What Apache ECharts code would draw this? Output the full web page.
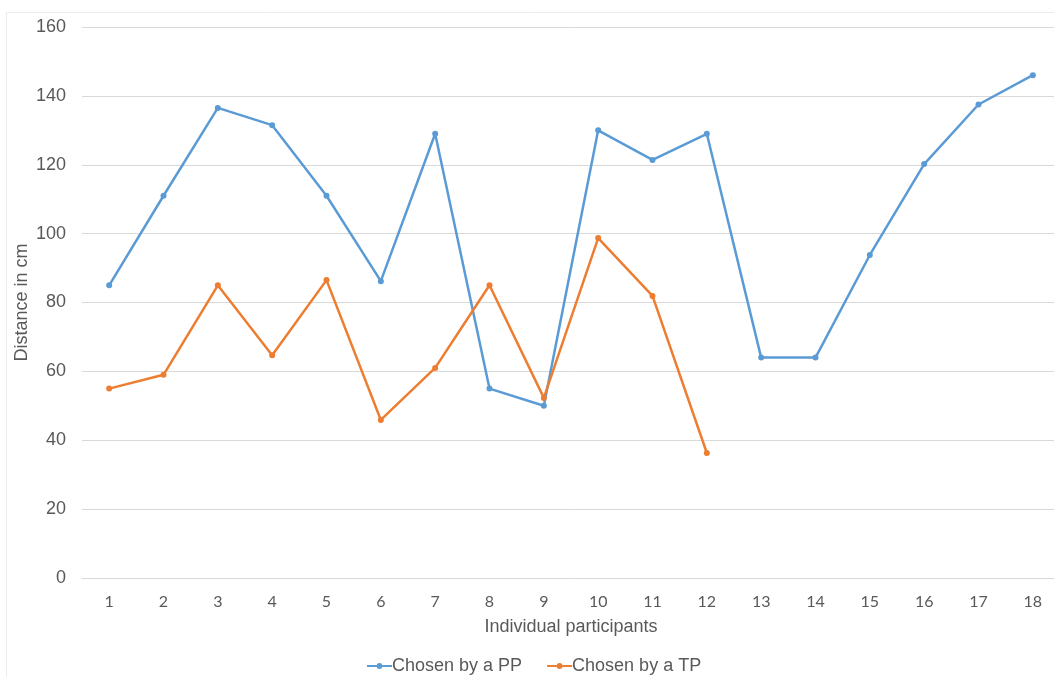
<!DOCTYPE html>
<html>
<head>
<meta charset="utf-8">
<script src="https://cdn.jsdelivr.net/npm/echarts@6/dist/echarts.min.js"></script>
<style>
  html, body { margin: 0; padding: 0; background: #ffffff; }
  #chart { width: 1054px; height: 677px; }
</style>
</head>
<body>
<div id="chart"></div>
<script>
// Participants on the x axis
const participants = ['1','2','3','4','5','6','7','8','9','10','11','12','13','14','15','16','17','18'];
// Distance (cm) chosen by a PP
const chosenByPP = [85, 111, 136.5, 131.5, 111, 86.2, 129, 55, 50, 130, 121.4, 129, 64, 64, 93.8, 120.2, 137.5, 146];
// Distance (cm) chosen by a TP (participants 1-12 only)
const chosenByTP = [55, 59, 85, 64.7, 86.5, 45.9, 61, 85, 52.3, 98.7, 81.9, 36.3];

const textColor = '#595959';
const fontFamily = '"Liberation Sans", Arial, sans-serif';
const tickFont = 'Lato, "Liberation Sans", sans-serif';

// legend marker: thin line with a dot in the middle (25 x 6 box)
const legendIcon = 'path://M0,2.1 L9.6,2.1 L9.6,3.9 L0,3.9 Z ' +
  'M15.4,2.1 L25,2.1 L25,3.9 L15.4,3.9 Z ' +
  'M9.6,3 A2.9,2.9 0 1 0 15.4,3 A2.9,2.9 0 1 0 9.6,3 Z';

const chart = echarts.init(document.getElementById('chart'), null, { renderer: 'canvas' });

chart.setOption({
  backgroundColor: '#ffffff',
  animation: false,
  graphic: [{
    type: 'rect',
    shape: { x: 6.5, y: 12.5, width: 1100, height: 700 },
    style: { fill: 'none', stroke: '#ececec', lineWidth: 1 },
    silent: true,
    z: -1
  }],
  // plot area runs slightly past the right edge of the canvas
  grid: { left: 82, top: 27, width: 978, height: 551, containLabel: false, outerBoundsMode: 'none' },
  legend: {
    top: 657,
    left: 367,
    padding: 0,
    itemWidth: 25,
    itemHeight: 6,
    itemGap: 25,
    icon: legendIcon,
    textStyle: { color: textColor, fontSize: 18, fontFamily: fontFamily, padding: [0, 0, 0, -5] },
    data: ['Chosen by a PP', 'Chosen by a TP']
  },
  xAxis: {
    type: 'category',
    data: participants,
    boundaryGap: true,
    name: 'Individual participants',
    nameLocation: 'middle',
    nameGap: 40,
    nameMoveOverlap: false,
    nameTextStyle: { color: textColor, fontSize: 18, fontFamily: fontFamily },
    axisLine: { show: true, lineStyle: { color: '#d9d9d9', width: 1 } },
    axisTick: { show: false },
    axisLabel: { color: textColor, fontSize: 16, fontFamily: tickFont, margin: 16 },
    splitLine: { show: false }
  },
  yAxis: {
    type: 'value',
    min: 0,
    max: 160,
    interval: 20,
    name: 'Distance in cm',
    nameLocation: 'middle',
    nameGap: 51,
    nameMoveOverlap: false,
    nameRotate: 90,
    nameTextStyle: { color: textColor, fontSize: 18, fontFamily: fontFamily },
    axisLine: { show: false },
    axisTick: { show: false },
    axisLabel: { color: textColor, fontSize: 18, fontFamily: fontFamily, margin: 16 },
    splitLine: { show: true, lineStyle: { color: '#d9d9d9', width: 1 } }
  },
  series: [
    {
      name: 'Chosen by a PP',
      type: 'line',
      data: chosenByPP,
      color: '#5b9bd5',
      symbol: 'circle',
      symbolSize: 6,
      lineStyle: { width: 2.5, color: '#5b9bd5' },
      itemStyle: { color: '#5b9bd5' }
    },
    {
      name: 'Chosen by a TP',
      type: 'line',
      data: chosenByTP,
      color: '#ed7d31',
      symbol: 'circle',
      symbolSize: 6,
      lineStyle: { width: 2.5, color: '#ed7d31' },
      itemStyle: { color: '#ed7d31' }
    }
  ]
});
</script>
</body>
</html>
